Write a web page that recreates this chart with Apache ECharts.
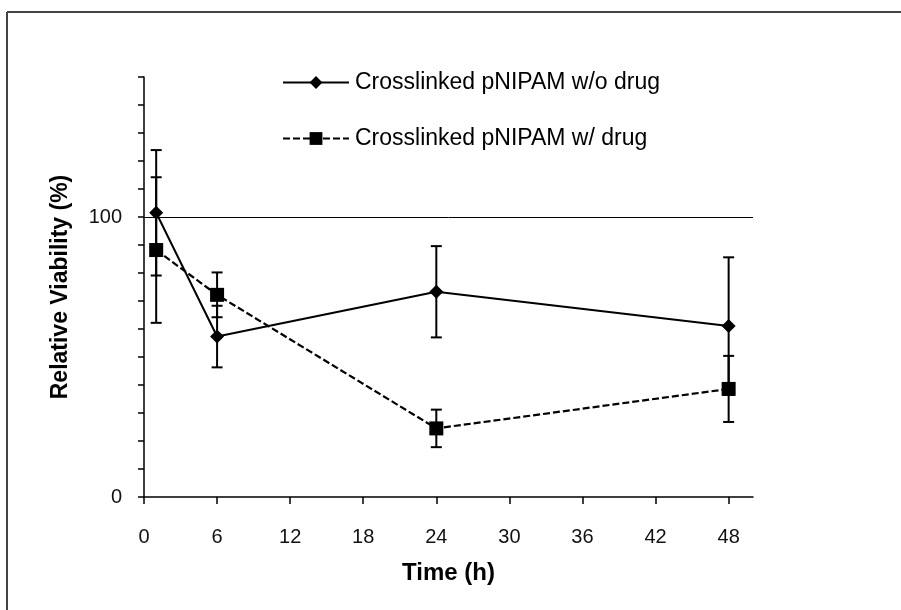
<!DOCTYPE html>
<html lang="en">
<head>
    <meta charset="UTF-8"/>
    <title>Relative Viability</title>
    <script src="https://cdn.jsdelivr.net/npm/echarts@6/dist/echarts.min.js"></script>
</head>
<body style="margin:0;background:#fff">
<div id="main" style="width: 901px;height:610px;"></div>
<script type="text/javascript">
    // values
    var times = [1, 6, 24, 48];
    var viabilityNoDrug = [101.5, 57.3, 73.3, 61.1];
    var errorNoDrug = [22.4, 11.0, 16.3, 24.5];
    var viabilityDrug = [88.2, 72.2, 24.5, 38.6];
    var errorDrug = [26.0, 8.0, 6.7, 11.8];

    var xTicks = [0, 6, 12, 18, 24, 30, 36, 42, 48];
    var yTicks = [0, 10, 20, 30, 40, 50, 60, 70, 80, 90, 100, 110, 120, 130, 140, 150];
    var yLabels = [0, 100];

    var nameNoDrug = 'Crosslinked pNIPAM w/o drug';
    var nameDrug = 'Crosslinked pNIPAM w/ drug';

    var tickFont = '"Liberation Sans Narrow", "Liberation Sans", Arial, sans-serif';
    var font = '"Liberation Sans", Arial, sans-serif';

    function pairs(xs, ys) {
        var out = [];
        for (var i = 0; i < xs.length; i++) out.push([xs[i], ys[i]]);
        return out;
    }
    function bars(xs, ys, es) {
        var out = [];
        for (var i = 0; i < xs.length; i++) out.push([xs[i], ys[i] - es[i], ys[i] + es[i]]);
        return out;
    }

    function renderErr(params, api) {
        var lo = api.coord([api.value(0), api.value(1)]);
        var hi = api.coord([api.value(0), api.value(2)]);
        var w = 5.5;
        var st = {stroke: '#000', lineWidth: 2};
        return {
            type: 'group',
            children: [
                {type: 'line', shape: {x1: lo[0], y1: lo[1], x2: hi[0], y2: hi[1]}, style: st},
                {type: 'line', shape: {x1: lo[0] - w, y1: lo[1], x2: lo[0] + w, y2: lo[1]}, style: st},
                {type: 'line', shape: {x1: hi[0] - w, y1: hi[1], x2: hi[0] + w, y2: hi[1]}, style: st}
            ]
        };
    }

    var myChart = echarts.init(document.getElementById('main'));

    var option = {
        animation: false,
        backgroundColor: '#fff',
        grid: {left: 144, right: 148, top: 77, bottom: 113},
        graphic: [
            {type: 'line', shape: {x1: 7, y1: 12, x2: 901, y2: 12}, style: {stroke: '#444', lineWidth: 2}},
            {type: 'line', shape: {x1: 7, y1: 12, x2: 7, y2: 610}, style: {stroke: '#444', lineWidth: 2}}
        ],
        legend: {
            orient: 'vertical',
            left: 277,
            top: 66,
            itemWidth: 66,
            itemHeight: 16,
            itemGap: 33,
            data: [nameNoDrug, nameDrug],
            textStyle: {fontFamily: font, fontSize: 23, color: '#000', padding: [0, 0, 0, 1]}
        },
        xAxis: {
            type: 'value',
            min: 0,
            max: 50,
            interval: 6,
            name: 'Time (h)',
            nameLocation: 'middle',
            nameGap: 64,
            nameTextStyle: {fontFamily: font, fontSize: 24, fontWeight: 'bold', color: '#000'},
            axisLine: {lineStyle: {color: '#000', width: 1.5}},
            axisTick: {show: true, length: 7, customValues: xTicks, lineStyle: {color: '#000', width: 1.5}},
            axisLabel: {customValues: xTicks, margin: 30, fontFamily: tickFont, fontSize: 20, color: '#111'},
            splitLine: {show: false}
        },
        yAxis: {
            type: 'value',
            min: 0,
            max: 150,
            interval: 10,
            name: 'Relative Viability (%)',
            nameLocation: 'middle',
            nameGap: 72,
            nameTextStyle: {fontFamily: font, fontSize: 23, fontWeight: 'bold', color: '#000'},
            axisLine: {show: true, lineStyle: {color: '#000', width: 1.5}},
            axisTick: {show: true, length: 6, customValues: yTicks, lineStyle: {color: '#000', width: 1.5}},
            axisLabel: {customValues: yLabels, margin: 22, fontFamily: tickFont, fontSize: 20, color: '#111'},
            splitLine: {show: false}
        },
        series: [
            {
                name: 'errNoDrug',
                type: 'custom',
                renderItem: renderErr,
                data: bars(times, viabilityNoDrug, errorNoDrug),
                z: 1,
                silent: true
            },
            {
                name: 'errDrug',
                type: 'custom',
                renderItem: renderErr,
                data: bars(times, viabilityDrug, errorDrug),
                z: 1,
                silent: true
            },
            {
                name: nameNoDrug,
                type: 'line',
                data: pairs(times, viabilityNoDrug),
                symbol: 'diamond',
                symbolSize: 14,
                itemStyle: {color: '#000'},
                lineStyle: {color: '#000', width: 2},
                z: 3,
                markLine: {
                    silent: true,
                    symbol: 'none',
                    label: {show: false},
                    lineStyle: {color: '#000', width: 1, type: 'solid'},
                    data: [{yAxis: 100}]
                }
            },
            {
                name: nameDrug,
                type: 'line',
                data: pairs(times, viabilityDrug),
                symbol: 'rect',
                symbolSize: 14,
                itemStyle: {color: '#000'},
                lineStyle: {color: '#000', width: 2.2, type: [7, 3]},
                z: 3
            }
        ]
    };

    myChart.setOption(option);
</script>
</body>
</html>
